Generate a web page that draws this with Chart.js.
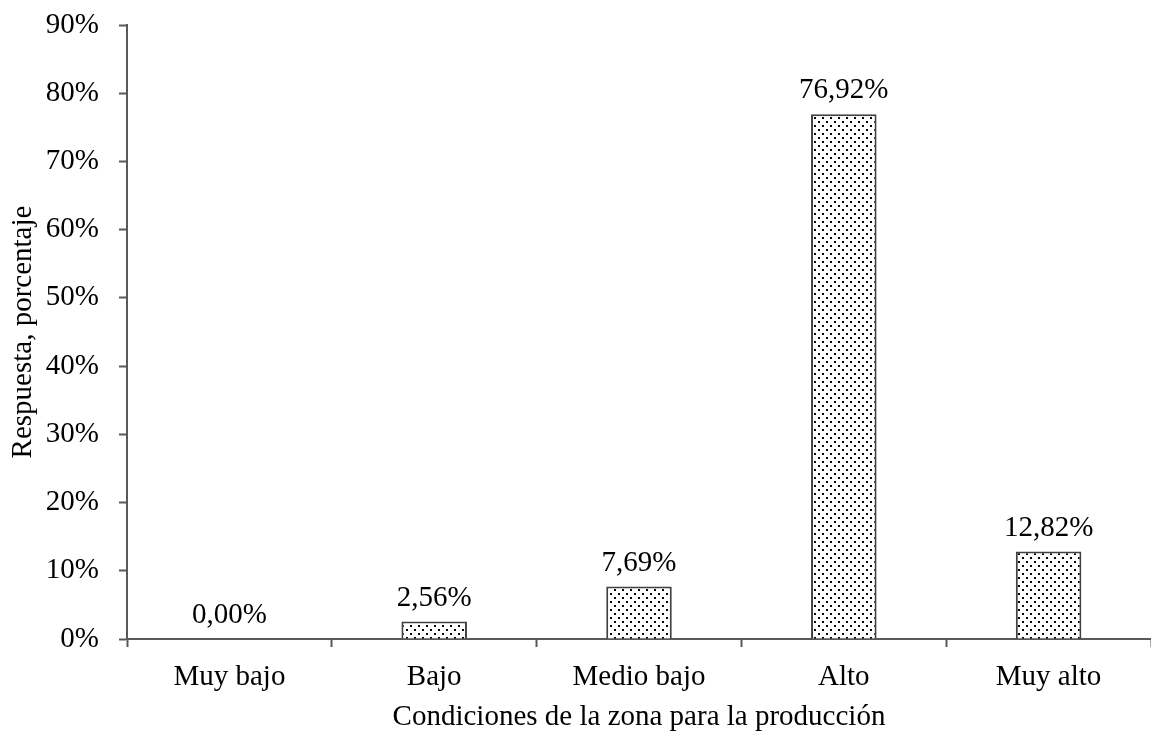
<!DOCTYPE html>
<html>
<head>
<meta charset="utf-8">
<script src="https://cdn.jsdelivr.net/npm/chart.js@4/dist/chart.umd.min.js"></script>
<style>
  html, body { margin: 0; padding: 0; background: #fff; }
  #wrap { width: 1151px; height: 733px; }
</style>
</head>
<body>
<div id="wrap"><canvas id="chart" width="1151" height="733"></canvas></div>
<script>
// data
const categories = ["Muy bajo", "Bajo", "Medio bajo", "Alto", "Muy alto"];
const respuesta = [0.00, 2.56, 7.69, 76.92, 12.82];
const yTicks = [0, 10, 20, 30, 40, 50, 60, 70, 80, 90];

const FONT = "'Liberation Serif', 'Times New Roman', serif";
const FS = 29;

// dotted fill like the original
function dotPattern() {
  const c = document.createElement('canvas');
  c.width = 8; c.height = 8;
  const g = c.getContext('2d');
  g.fillStyle = '#fff';
  g.fillRect(0, 0, 8, 8);
  g.fillStyle = '#000';
  g.fillRect(2, 1, 2, 2);
  g.fillRect(6, 5, 2, 2);
  return g.createPattern(c, 'repeat');
}

// write value above every bar
const valueLabels = {
  id: 'valueLabels',
  afterDatasetsDraw(chart) {
    const ctx = chart.ctx;
    const meta = chart.getDatasetMeta(0);
    ctx.save();
    ctx.font = FS + 'px ' + FONT;
    ctx.fillStyle = '#000';
    ctx.textAlign = 'center';
    ctx.textBaseline = 'alphabetic';
    meta.data.forEach(function(bar, i) {
      const txt = respuesta[i].toFixed(2).replace('.', ',') + '%';
      ctx.fillText(txt, bar.x, bar.y - 16);
    });
    ctx.restore();
  }
};

new Chart(document.getElementById('chart'), {
  type: 'bar',
  data: {
    labels: categories,
    datasets: [{
      data: respuesta,
      backgroundColor: dotPattern(),
      borderColor: '#404040',
      borderWidth: 2,
      barPercentage: 0.64,
      categoryPercentage: 0.5
    }]
  },
  options: {
    responsive: false,
    animation: false,
    layout: { padding: { top: 25, right: 0, bottom: 0, left: 6 } },
    plugins: {
      legend: { display: false },
      tooltip: { enabled: false }
    },
    scales: {
      x: {
        afterFit: function(axis) { axis.height = 94; },
        grid: {
          offset: true,
          drawOnChartArea: false,
          drawTicks: true,
          tickLength: 8,
          tickWidth: 2,
          tickColor: '#595959'
        },
        border: { color: '#595959', width: 2 },
        ticks: {
          color: '#000',
          padding: 13,
          font: { family: FONT, size: FS }
        },
        title: {
          display: true,
          text: 'Condiciones de la zona para la producción',
          color: '#000',
          font: { family: FONT, size: FS },
          padding: { top: 4, bottom: -2 }
        }
      },
      y: {
        min: 0,
        max: 90,
        afterBuildTicks: function(axis) {
          axis.ticks = yTicks.map(function(v) { return { value: v }; });
        },
        afterFit: function(axis) {
          axis.width = 121;
          axis.paddingTop = 0;
          axis.paddingBottom = 0;
        },
        grid: {
          drawOnChartArea: false,
          drawTicks: true,
          tickLength: 8,
          tickWidth: 2,
          tickColor: '#595959'
        },
        border: { color: '#595959', width: 2 },
        ticks: {
          color: '#000',
          padding: 20,
          font: { family: FONT, size: FS },
          callback: function(v) { return v + '%'; }
        },
        title: {
          display: true,
          text: 'Respuesta, porcentaje',
          color: '#000',
          font: { family: FONT, size: FS },
          padding: { top: 0, bottom: 4 }
        }
      }
    }
  },
  plugins: [valueLabels]
});
</script>
</body>
</html>
